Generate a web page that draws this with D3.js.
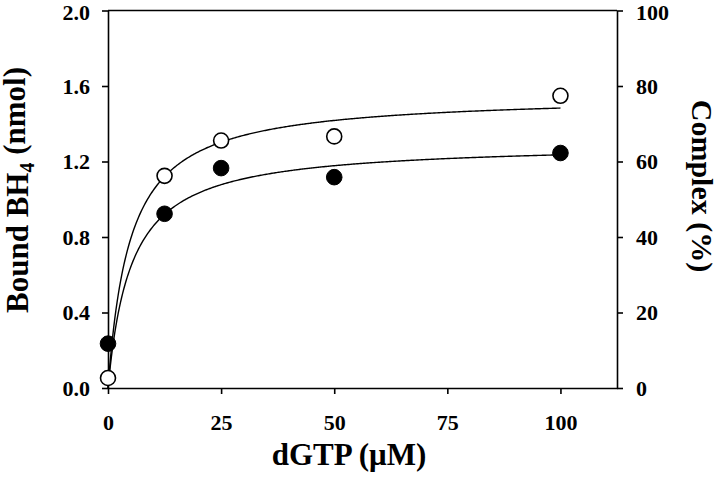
<!DOCTYPE html>
<html>
<head>
<meta charset="utf-8">
<script src="https://cdn.jsdelivr.net/npm/d3@7"></script>
<style>
  html, body { margin: 0; padding: 0; background: #fff; }
  svg text { font-family: "Liberation Serif", "Times New Roman", serif; font-weight: bold; fill: #000; }
</style>
</head>
<body>
<svg id="chart" width="720" height="484"></svg>
<script>
// ---- data ----
const dgtp = [0, 12.5, 25, 50, 100];                 // dGTP (µM)
const boundFilled = [0.235, 0.923, 1.165, 1.117, 1.245]; // filled circles, nmol
const boundOpen = [0.053, 1.124, 1.311, 1.333, 1.548];   // open circles, nmol
// hyperbolic fit parameters (Bmax, Kd) for each series
const fitFilled = [1.299, 5.15];
const fitOpen = [1.555, 4.85];
const xTicks = [0, 25, 50, 75, 100];
const yLeftTicks = [0.0, 0.4, 0.8, 1.2, 1.6, 2.0];
const yRightTicks = [0, 20, 40, 60, 80, 100];

const svg = d3.select("#chart");
const L = 108, R = 617, T = 10.5, B = 388;

const x = d3.scaleLinear().domain([0, 112.5]).range([L, R]);
const y = d3.scaleLinear().domain([0, 2]).range([B, T]);
const y2 = d3.scaleLinear().domain([0, 100]).range([B, T]);

// frame
svg.append("line").attr("x1", L).attr("x2", R).attr("y1", T).attr("y2", T)
  .attr("stroke", "#000").attr("stroke-width", 1.6);

function styleAxis(g) {
  g.select(".domain").attr("stroke-width", 1.6);
  g.selectAll(".tick line").attr("stroke-width", 1.6);
  g.selectAll(".tick text").style("font-size", "22px").style("font-family", "'Liberation Serif', 'Times New Roman', serif").style("font-weight", "bold");
}

const xAxis = svg.append("g").attr("transform", `translate(0,${B})`)
  .call(d3.axisBottom(x).tickValues(xTicks).tickSize(6).tickPadding(20).tickSizeOuter(0).tickFormat(d3.format("d")));
styleAxis(xAxis);

const yAxis = svg.append("g").attr("transform", `translate(${L},0)`)
  .call(d3.axisLeft(y).tickValues(yLeftTicks).tickSize(6).tickPadding(12).tickSizeOuter(0).tickFormat(d3.format(".1f")));
styleAxis(yAxis);

const yAxis2 = svg.append("g").attr("transform", `translate(${R},0)`)
  .call(d3.axisRight(y2).tickValues(yRightTicks).tickSize(6).tickPadding(13).tickSizeOuter(0).tickFormat(d3.format("d")));
styleAxis(yAxis2);

// top-most labels sit slightly lower in the reference
yAxis.selectAll(".tick text").filter(d => d === 2.0).attr("y", 2);
yAxis2.selectAll(".tick text").filter(d => d === 100).attr("y", 2);

// fitted curves
const xs = d3.range(0, 100.001, 0.25);
const line = d3.line().x(d => x(d[0])).y(d => y(d[1])).curve(d3.curveLinear);
[fitOpen, fitFilled].forEach(p => {
  svg.append("path")
    .datum(xs.map(v => [v, p[0] * v / (p[1] + v)]))
    .attr("d", line)
    .attr("fill", "none").attr("stroke", "#000").attr("stroke-width", 1.4);
});

// points
svg.append("g").selectAll("circle").data(dgtp).join("circle")
  .attr("cx", d => x(d)).attr("cy", (d, i) => y(boundFilled[i])).attr("r", 7.8)
  .attr("fill", "#000").attr("stroke", "#000").attr("stroke-width", 1);
svg.append("g").selectAll("circle").data(dgtp).join("circle")
  .attr("cx", d => x(d)).attr("cy", (d, i) => y(boundOpen[i])).attr("r", 7.5)
  .attr("fill", "#fff").attr("stroke", "#000").attr("stroke-width", 1.6);

// axis titles
svg.append("text").attr("x", 349).attr("y", 465).attr("text-anchor", "middle")
  .style("font-size", "31px").text("dGTP (μM)");

const lt = svg.append("text").attr("transform", `translate(28,190) rotate(-90)`)
  .attr("text-anchor", "middle").style("font-size", "31px");
lt.append("tspan").text("Bound BH");
lt.append("tspan").attr("dy", "0.3em").style("font-size", "20px").text("4");
lt.append("tspan").attr("dy", "-0.3em").text(" (nmol)");

svg.append("text").attr("transform", `translate(692,186) rotate(90)`)
  .attr("text-anchor", "middle").style("font-size", "30px").text("Complex (%)");
</script>
</body>
</html>
